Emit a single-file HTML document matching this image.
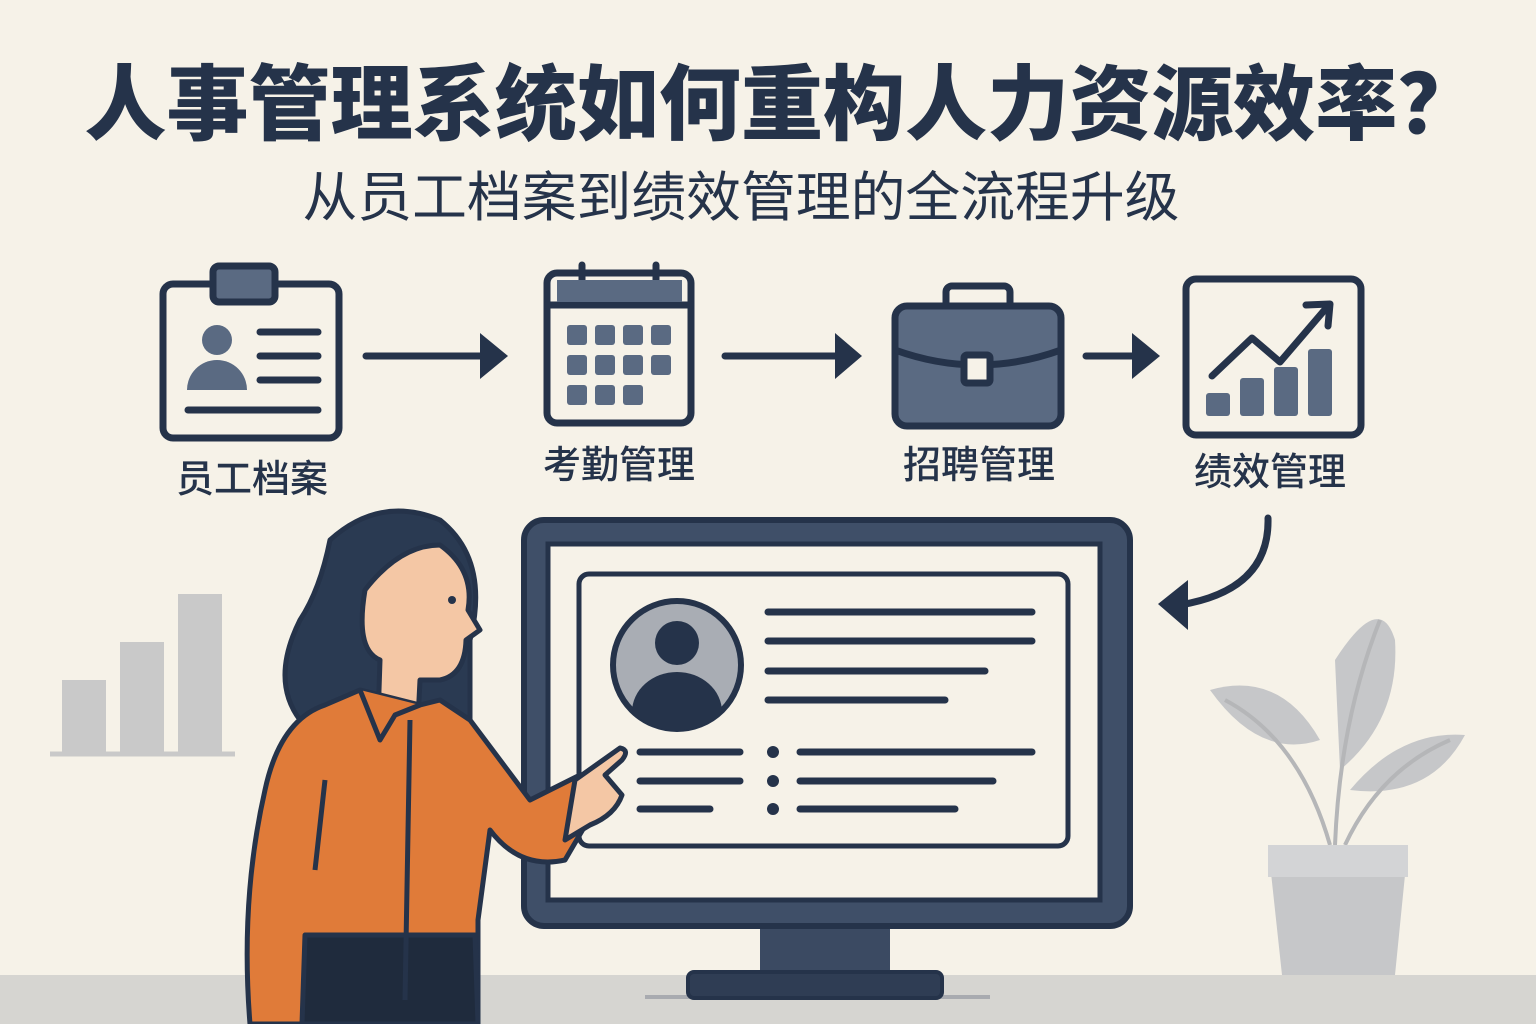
<!DOCTYPE html>
<html><head><meta charset="utf-8"><style>
body{margin:0;background:#f6f2e8;}
svg{display:block}
text{font-family:"Liberation Sans","Noto Sans CJK SC",sans-serif;}
</style></head><body>
<svg width="1536" height="1024" viewBox="0 0 1536 1024" xmlns="http://www.w3.org/2000/svg">
<rect width="1536" height="1024" fill="#f6f2e8"/>
<rect x="0" y="975" width="1536" height="49" fill="#d6d5d1"/>
<line x1="645" y1="997" x2="990" y2="997" stroke="#a9abb0" stroke-width="4"/>
<text x="782" y="133" font-size="82" font-weight="900" fill="#25334a" text-anchor="middle" textLength="1395" lengthAdjust="spacingAndGlyphs">人事管理系统如何重构人力资源效率？</text>
<text x="741" y="216" font-size="54" font-weight="400" fill="#25334a" text-anchor="middle" textLength="877" lengthAdjust="spacingAndGlyphs">从员工档案到绩效管理的全流程升级</text>

<g stroke="#25334a" stroke-width="7" fill="none" stroke-linecap="round" stroke-linejoin="round">
<rect x="163" y="284" width="176" height="154" rx="10" fill="#f6f2e8"/>
<rect x="213" y="266" width="62" height="36" rx="6" fill="#5a6a82"/>
<line x1="260" y1="332" x2="318" y2="332"/><line x1="260" y1="356" x2="318" y2="356"/><line x1="260" y1="380" x2="318" y2="380"/>
<line x1="188" y1="410" x2="318" y2="410"/>
<rect x="547" y="273" width="144" height="150" rx="10" fill="#f6f2e8"/>
<path d="M547 305 H691" />
<line x1="582" y1="265" x2="582" y2="292"/><line x1="656" y1="265" x2="656" y2="292"/>
<rect x="1186" y="279" width="175" height="156" rx="10" fill="#f6f2e8"/>
<polyline points="1212,376 1252,338 1280,362 1328,306"/>
<polyline points="1306,305 1330,304 1328,326"/>
<line x1="366" y1="356" x2="488" y2="356"/><line x1="725" y1="356" x2="842" y2="356"/><line x1="1086" y1="356" x2="1140" y2="356"/>
</g>
<g fill="#25334a">
<polygon points="480,333 508,356 480,379"/><polygon points="835,333 862,356 835,379"/><polygon points="1132,333 1160,356 1132,379"/>
</g>
<rect x="557" y="280" width="125" height="22" fill="#5a6a82"/>
<g fill="#5a6a82">
<circle cx="217" cy="340" r="15"/><path d="M187 390 a30 30 0 0 1 60 0 z"/>
<rect x="567" y="325" width="20" height="20" rx="3"/><rect x="595" y="325" width="20" height="20" rx="3"/><rect x="623" y="325" width="20" height="20" rx="3"/><rect x="651" y="325" width="20" height="20" rx="3"/>
<rect x="567" y="355" width="20" height="20" rx="3"/><rect x="595" y="355" width="20" height="20" rx="3"/><rect x="623" y="355" width="20" height="20" rx="3"/><rect x="651" y="355" width="20" height="20" rx="3"/>
<rect x="567" y="385" width="20" height="20" rx="3"/><rect x="595" y="385" width="20" height="20" rx="3"/><rect x="623" y="385" width="20" height="20" rx="3"/>
<rect x="1206" y="393" width="24" height="23" rx="3"/><rect x="1240" y="378" width="24" height="38" rx="3"/><rect x="1274" y="367" width="24" height="49" rx="3"/><rect x="1308" y="349" width="24" height="67" rx="3"/>
</g>
<g stroke="#25334a" stroke-width="7" stroke-linejoin="round">
<rect x="946" y="286" width="64" height="30" rx="6" fill="none"/>
<rect x="895" y="306" width="166" height="120" rx="12" fill="#5a6a82"/>
<path d="M895 350 Q978 380 1061 350" fill="none"/>
<rect x="964" y="355" width="26" height="28" rx="3" fill="#f6f2e8"/>
</g>
<g font-size="38" font-weight="500" fill="#25334a" text-anchor="middle">
<text x="252" y="492">员工档案</text><text x="619" y="478">考勤管理</text><text x="979" y="478">招聘管理</text><text x="1270" y="485">绩效管理</text>
</g>
<path d="M1268 518 Q1270 590 1180 605" stroke="#25334a" stroke-width="7" fill="none" stroke-linecap="round"/>
<polygon points="1158,604 1188,580 1188,630" fill="#25334a"/>

<g fill="#c9c9c9"><rect x="62" y="680" width="44" height="72"/><rect x="120" y="642" width="44" height="110"/><rect x="178" y="594" width="44" height="158"/></g>
<line x1="50" y1="754" x2="235" y2="754" stroke="#c9c9c9" stroke-width="5"/>

<g fill="#c6c7c9">
<path d="M1335 660 Q1380 590 1395 640 Q1400 720 1340 770 Z"/>
<path d="M1210 690 Q1280 670 1320 740 Q1260 760 1210 690Z"/>
<path d="M1350 790 Q1400 730 1465 735 Q1430 800 1350 790Z"/>
<path d="M1268 845 H1408 L1395 975 H1282 Z"/>
</g>
<g stroke="#b5b6b8" stroke-width="4" fill="none"><path d="M1335 845 Q1340 720 1380 620"/><path d="M1330 845 Q1300 740 1225 700"/><path d="M1345 845 Q1380 770 1450 740"/></g>
<rect x="1268" y="845" width="140" height="32" fill="#d3d4d6" />

<rect x="760" y="920" width="130" height="58" fill="#3b4a62"/>
<rect x="688" y="972" width="254" height="26" rx="6" fill="#2f3d54" stroke="#25334a" stroke-width="4"/>
<rect x="524" y="520" width="606" height="406" rx="20" fill="#3f4f68" stroke="#25334a" stroke-width="6"/>
<rect x="548" y="544" width="552" height="356" fill="#f6f2e8" stroke="#25334a" stroke-width="5"/>
<rect x="579" y="574" width="489" height="272" rx="10" fill="#f6f2e8" stroke="#25334a" stroke-width="5"/>
<circle cx="677" cy="665" r="64" fill="#a9adb4" stroke="#25334a" stroke-width="6"/>
<circle cx="677" cy="643" r="22" fill="#25334a"/>
<path d="M632 712 a45 40 0 0 1 90 0 a64 64 0 0 1 -90 0z" fill="#25334a"/>
<g stroke="#25334a" stroke-width="7" stroke-linecap="round">
<line x1="768" y1="612" x2="1032" y2="612"/><line x1="768" y1="641" x2="1032" y2="641"/><line x1="768" y1="671" x2="985" y2="671"/><line x1="768" y1="700" x2="945" y2="700"/>
<line x1="640" y1="752" x2="740" y2="752"/><line x1="640" y1="781" x2="740" y2="781"/><line x1="640" y1="809" x2="710" y2="809"/>
<line x1="800" y1="752" x2="1032" y2="752"/><line x1="800" y1="781" x2="993" y2="781"/><line x1="800" y1="809" x2="955" y2="809"/>
</g>
<g fill="#25334a"><circle cx="773" cy="752" r="6"/><circle cx="773" cy="781" r="6"/><circle cx="773" cy="809" r="6"/></g>

<g stroke="#25334a" stroke-width="5" stroke-linejoin="round">
<path d="M330 540 Q380 495 440 520 Q490 560 470 640 L470 720 L300 720 Q270 680 300 620 Q320 590 330 540Z" fill="#2a3a52"/>
<path d="M365 590 Q400 545 440 545 Q475 570 468 610 L480 630 L466 640 Q465 675 440 680 L420 680 L418 720 L378 720 L380 660 Q355 650 365 590Z" fill="#f4c7a5"/>
<path d="M325 705 L360 690 L420 705 L440 700 L470 720 Q500 760 530 800 L580 775 L600 800 L565 860 Q520 870 490 830 L478 920 L478 1024 L275 1024 L250 1024 Q240 900 265 790 Q280 720 325 705Z" fill="#e07b39"/>
<path d="M305 935 L475 935 L478 1024 L302 1024Z" fill="#1f2b3d"/>
<path d="M575 780 L620 748 Q630 750 622 760 L605 775 L622 795 Q615 815 590 825 L565 840Z" fill="#f4c7a5"/>
<path d="M360 690 L380 740 L395 715 L420 705" fill="#e07b39"/>
<path d="M410 720 L405 1000 M325 780 L315 870" fill="none"/>
</g>
<circle cx="452" cy="600" r="4" fill="#25334a"/>
</svg>
</body></html>
